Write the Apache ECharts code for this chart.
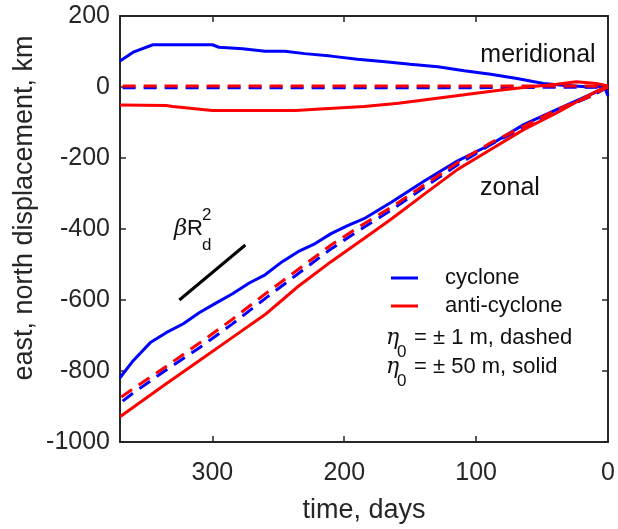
<!DOCTYPE html>
<html>
<head>
<meta charset="utf-8">
<script src="https://cdn.jsdelivr.net/npm/echarts@6/dist/echarts.min.js"></script>
<style>html,body{margin:0;padding:0;background:#fff}#c{width:618px;height:529px}</style>
</head>
<body>
<div id="c"></div>
<script>
// ---- data (days before end, km) ----
const xTicks = [0, 100, 200, 300];
const yTicks = [-1000, -800, -600, -400, -200, 0, 200];

// meridional, cyclone, eta0 = 50 m (solid)
const merCycSolidDays = [370,360,345,300,295,277,260,245,230,210,190,169,150,129,109,89,69,49,34,14,3,0];
const merCycSolidVals = [73,98,119,119,112,108,101,101,94,87,78,71,64,57,46,36,24,10,5,0,2,-25];
// meridional, anti-cyclone, eta0 = 50 m (solid)
const merAntiSolidDays = [370,335,330,300,237,215,185,159,134,109,84,59,39,24,9,0];
const merAntiSolidVals = [-51,-52,-55,-66,-66,-61,-55,-46,-34,-22,-10,1,8,15,10,3];
// meridional, eta0 = 1 m (dashed)
const merCycDashDays = [368,300,200,100,50,20,0];
const merCycDashVals = [-2,-2,-2,-2,-1,-1,0];
const merAntiDashDays = [368,300,200,100,50,20,0];
const merAntiDashVals = [3,3,3,3,3,3,2];

// zonal, cyclone, solid
const zonCycSolidDays = [370,360,347,335,322,310,297,285,272,260,247,235,222,210,197,185,164,139,114,89,64,39,14,0];
const zonCycSolidVals = [-819,-771,-720,-692,-667,-636,-608,-583,-552,-529,-492,-464,-441,-413,-390,-371,-324,-264,-208,-162,-106,-64,-22,0];
// zonal, anti-cyclone, solid
const zonAntiSolidDays = [370,335,310,285,260,235,210,185,164,139,114,89,64,39,14,0];
const zonAntiSolidVals = [-929,-836,-771,-706,-641,-562,-492,-427,-371,-301,-232,-176,-120,-73,-22,5];
// zonal, cyclone, dashed
const zonCycDashDays = [368,360,335,310,285,260,235,210,185,164,139,114,89,64,39,14,0];
const zonCycDashVals = [-885,-862,-797,-735,-668,-596,-526,-456,-395,-346,-282,-219,-162,-114,-66,-28,0];
// zonal, anti-cyclone, dashed
const zonAntiDashDays = [369,360,335,310,285,260,235,210,185,164,139,114,89,64,39,14,0];
const zonAntiDashVals = [-873,-850,-787,-722,-655,-583,-514,-445,-385,-338,-275,-213,-157,-111,-64,-27,0];

// beta R_d^2 slope reference line
const betaDays = [325, 275];
const betaVals = [-600, -445];

function pairs(d, v) { return d.map((x, i) => [x, v[i]]); }

const BLUE = '#0000ff', RED = '#ff0000', INK = '#262626';
const FONT = 'Liberation Sans, Arial, Helvetica, sans-serif';

function lineSeries(name, color, dashed, d, v) {
  return {
    type: 'line', name: name, data: pairs(d, v), showSymbol: false, symbol: 'none',
    color: color, smooth: false, animation: false,
    lineStyle: { color: color, width: 3, type: dashed ? [13, 8] : 'solid' }
  };
}

const chart = echarts.init(document.getElementById('c'), null, { renderer: 'canvas' });

const axisLine = { show: true, onZero: false, lineStyle: { color: INK, width: 2 } };
const tickStyle = { color: INK, width: 1.5 };
const plain = v => String(v);

chart.setOption({
  animation: false,
  backgroundColor: '#fff',
  grid: { left: 120, right: 6, top: 16, bottom: 83, containLabel: false },
  xAxis: [
    {
      type: 'value', inverse: true, min: 0, max: 370, position: 'bottom',
      axisLine: axisLine,
      axisTick: { show: true, inside: true, length: 6, customValues: xTicks, lineStyle: tickStyle },
      axisLabel: { customValues: xTicks, fontSize: 25, color: INK, margin: 19, fontFamily: FONT, formatter: plain },
      splitLine: { show: false },
      name: 'time, days', nameLocation: 'middle', nameGap: 55,
      nameTextStyle: { fontSize: 27, color: INK, fontFamily: FONT }
    },
    {
      type: 'value', inverse: true, min: 0, max: 370, position: 'top',
      axisLine: axisLine,
      axisTick: { show: true, inside: true, length: 6, customValues: xTicks, lineStyle: tickStyle },
      axisLabel: { show: false }, splitLine: { show: false }
    }
  ],
  yAxis: [
    {
      type: 'value', min: -1000, max: 200, interval: 200, position: 'left',
      axisLine: axisLine,
      axisTick: { show: true, inside: true, length: 6, lineStyle: tickStyle },
      axisLabel: { fontSize: 25, color: INK, margin: 10, fontFamily: FONT, formatter: plain },
      splitLine: { show: false }
    },
    {
      type: 'value', min: -1000, max: 200, interval: 200, position: 'right',
      axisLine: axisLine,
      axisTick: { show: true, inside: true, length: 6, lineStyle: tickStyle },
      axisLabel: { show: false }, splitLine: { show: false }
    }
  ],
  legend: {
    left: 386, top: 262, orient: 'vertical', itemGap: 6,
    itemWidth: 27, itemHeight: 3,
    textStyle: { fontSize: 22, color: '#111', fontFamily: FONT, lineHeight: 22, padding: [0, 0, 0, 22] },
    selectedMode: false,
    data: [
      { name: 'cyclone', icon: 'rect', itemStyle: { color: BLUE } },
      { name: 'anti-cyclone', icon: 'rect', itemStyle: { color: RED } }
    ]
  },
  series: [
    lineSeries('cyclone', BLUE, false, merCycSolidDays, merCycSolidVals),
    lineSeries('cyclone', BLUE, true, merCycDashDays, merCycDashVals),
    lineSeries('cyclone', BLUE, false, zonCycSolidDays, zonCycSolidVals),
    lineSeries('cyclone', BLUE, true, zonCycDashDays, zonCycDashVals),
    lineSeries('anti-cyclone', RED, false, merAntiSolidDays, merAntiSolidVals),
    lineSeries('anti-cyclone', RED, true, merAntiDashDays, merAntiDashVals),
    lineSeries('anti-cyclone', RED, false, zonAntiSolidDays, zonAntiSolidVals),
    lineSeries('anti-cyclone', RED, true, zonAntiDashDays, zonAntiDashVals),
    {
      type: 'line', name: 'beta', data: pairs(betaDays, betaVals), symbol: 'none',
      lineStyle: { color: '#000', width: 3 }, color: '#000', animation: false
    }
  ],
  graphic: [
    { type: 'text', x: 25, y: 208, rotation: Math.PI / 2,
      style: { text: 'east, north displacement, km', fontSize: 27, fontFamily: FONT, fill: INK, align: 'center', verticalAlign: 'middle' } },
    { type: 'text', x: 538, y: 55,
      style: { text: 'meridional', fontSize: 25, fontFamily: FONT, fill: '#111', align: 'center', verticalAlign: 'middle' } },
    { type: 'text', x: 510, y: 188,
      style: { text: 'zonal', fontSize: 25, fontFamily: FONT, fill: '#111', align: 'center', verticalAlign: 'middle' } },
    // beta R_d^2
    { type: 'text', x: 174, y: 229,
      style: { text: 'β', fontSize: 23, fontFamily: 'DejaVu Serif, serif', fontStyle: 'italic', fill: '#111', align: 'left', verticalAlign: 'middle' } },
    { type: 'text', x: 187, y: 229,
      style: { text: 'R', fontSize: 22, fontFamily: FONT, fill: '#111', align: 'left', verticalAlign: 'middle' } },
    { type: 'text', x: 202, y: 215,
      style: { text: '2', fontSize: 17, fontFamily: FONT, fill: '#111', align: 'left', verticalAlign: 'middle' } },
    { type: 'text', x: 202, y: 245,
      style: { text: 'd', fontSize: 17, fontFamily: FONT, fill: '#111', align: 'left', verticalAlign: 'middle' } },
    // eta lines
    { type: 'text', x: 386, y: 338,
      style: { text: 'η', fontSize: 22, fontFamily: 'DejaVu Serif, serif', fontStyle: 'italic', fill: '#111', align: 'left', verticalAlign: 'middle' } },
    { type: 'text', x: 397, y: 352,
      style: { text: '0', fontSize: 17, fontFamily: FONT, fill: '#111', align: 'left', verticalAlign: 'middle' } },
    { type: 'text', x: 414, y: 338,
      style: { text: '= ± 1 m, dashed', fontSize: 22, fontFamily: FONT, fill: '#111', align: 'left', verticalAlign: 'middle' } },
    { type: 'text', x: 386, y: 367,
      style: { text: 'η', fontSize: 22, fontFamily: 'DejaVu Serif, serif', fontStyle: 'italic', fill: '#111', align: 'left', verticalAlign: 'middle' } },
    { type: 'text', x: 397, y: 381,
      style: { text: '0', fontSize: 17, fontFamily: FONT, fill: '#111', align: 'left', verticalAlign: 'middle' } },
    { type: 'text', x: 414, y: 367,
      style: { text: '= ± 50 m, solid', fontSize: 22, fontFamily: FONT, fill: '#111', align: 'left', verticalAlign: 'middle' } }
  ]
});
</script>
</body>
</html>
